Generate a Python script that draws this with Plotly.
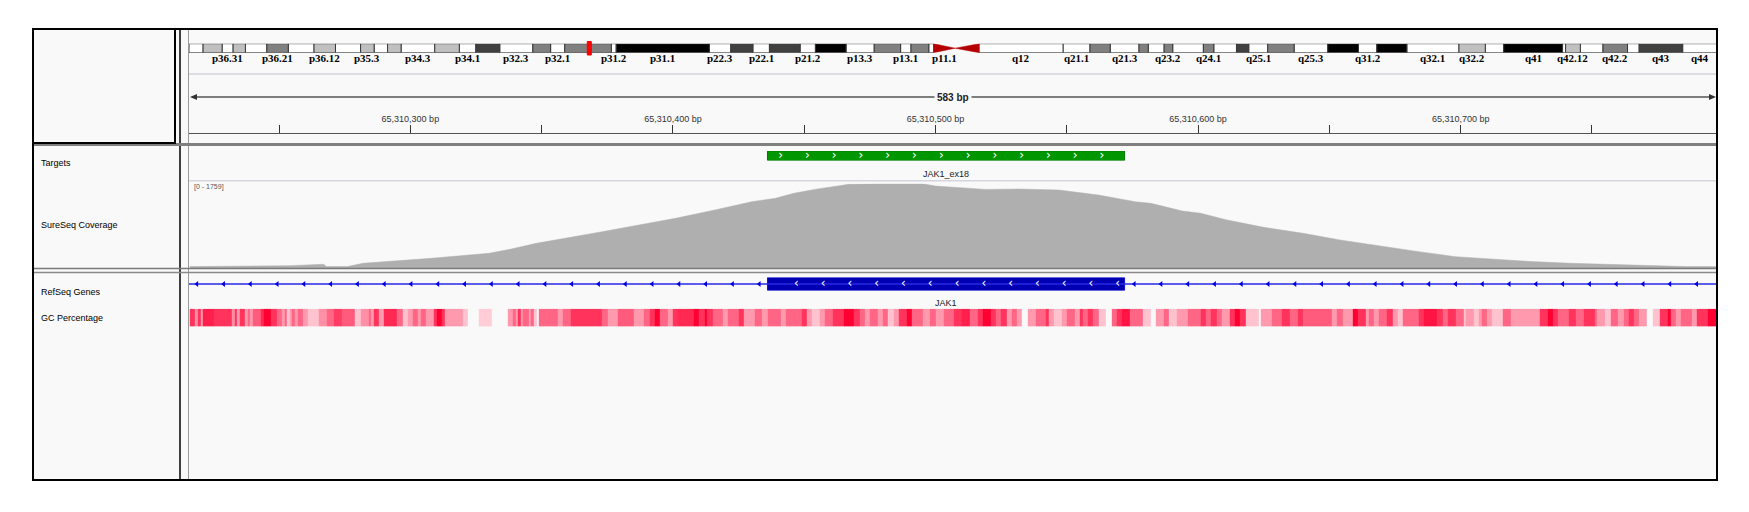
import numpy as np
import plotly.graph_objects as go

# canvas size in px, everything below is placed from it
W, H = 1749, 512


def px(x):
    return x / W


def py(y):
    return 1 - y / H


# ---- data ----
# chr1 cytobands (Mb)
chrom_length = 249.25
band_names = ['p36.33', 'p36.32', 'p36.31', 'p36.23', 'p36.22', 'p36.21', 'p36.13', 'p36.12', 'p36.11',
              'p35.3', 'p35.2', 'p35.1', 'p34.3', 'p34.2', 'p34.1', 'p33', 'p32.3', 'p32.2', 'p32.1',
              'p31.3', 'p31.2', 'p31.1', 'p22.3', 'p22.2', 'p22.1', 'p21.3', 'p21.2', 'p21.1',
              'p13.3', 'p13.2', 'p13.1', 'p12', 'p11.2', 'p11.1', 'q11', 'q12', 'q21.1', 'q21.2', 'q21.3',
              'q22', 'q23.1', 'q23.2', 'q23.3', 'q24.1', 'q24.2', 'q24.3', 'q25.1', 'q25.2', 'q25.3',
              'q31.1', 'q31.2', 'q31.3', 'q32.1', 'q32.2', 'q32.3', 'q41', 'q42.11', 'q42.12', 'q42.13',
              'q42.2', 'q42.3', 'q43', 'q44']
band_starts = [0, 2.3, 5.4, 7.2, 9.2, 12.7, 16.2, 20.4, 23.9, 28.0, 30.2, 32.4, 34.6, 40.1, 44.1, 46.8,
               50.7, 56.1, 59.0, 61.3, 68.9, 69.7, 84.9, 88.4, 92.0, 94.7, 99.7, 102.2, 107.2, 111.8,
               116.1, 117.8, 120.7, 121.5, 125.0, 128.9, 142.6, 147.0, 150.3, 155.0, 156.5, 159.1,
               160.5, 165.5, 167.2, 170.9, 172.9, 176.0, 180.3, 185.8, 190.8, 193.8, 198.7, 207.2,
               211.5, 214.5, 224.1, 224.6, 227.0, 230.7, 234.7, 236.6, 243.7]
band_stains = ['gneg', 'gpos25', 'gneg', 'gpos25', 'gneg', 'gpos50', 'gneg', 'gpos25', 'gneg',
               'gpos25', 'gneg', 'gpos25', 'gneg', 'gpos25', 'gneg', 'gpos75', 'gneg', 'gpos50', 'gneg',
               'gpos50', 'gneg', 'gpos100', 'gneg', 'gpos75', 'gneg', 'gpos75', 'gneg', 'gpos100',
               'gneg', 'gpos50', 'gneg', 'gpos50', 'gneg', 'acen', 'acen', 'gvar', 'gneg', 'gpos50', 'gneg',
               'gpos50', 'gneg', 'gpos50', 'gneg', 'gpos50', 'gneg', 'gpos75', 'gneg', 'gpos50', 'gneg',
               'gpos100', 'gneg', 'gpos100', 'gneg', 'gpos25', 'gneg', 'gpos100', 'gneg', 'gpos25', 'gneg',
               'gpos50', 'gneg', 'gpos75', 'gneg']
band_ends = band_starts[1:] + [chrom_length]
shown_bands = ['p36.31', 'p36.21', 'p36.12', 'p35.3', 'p34.3', 'p34.1', 'p32.3', 'p32.1', 'p31.2',
               'p31.1', 'p22.3', 'p22.1', 'p21.2', 'p13.3', 'p13.1', 'p11.1', 'q12', 'q21.1', 'q21.3',
               'q23.2', 'q24.1', 'q25.1', 'q25.3', 'q31.2', 'q32.1', 'q32.2', 'q41', 'q42.12', 'q42.2',
               'q43', 'q44']
locus_mb = 65.31

# view on chr1
base = 65310000
view_start = base + 215.7
view_end = base + 797.5
view_span = '583 bp'
ruler_ticks = [250, 300, 350, 400, 450, 500, 550, 600, 650, 700, 750]

# coverage (offset from base, depth)
cov_max = 1759
cov_pos = [216, 254, 267, 268, 276, 282, 308, 330, 338, 348, 372, 387, 401, 416, 430, 439, 446,
           454, 467, 480, 495, 500, 519, 532, 547, 562, 576, 582, 594, 601, 611, 625, 640, 654,
           669, 684, 698, 713, 727, 742, 757, 771, 786, 798]
cov_depth = [35, 55, 83, 35, 35, 104, 208, 312, 395, 519, 750, 900, 1039, 1212, 1385, 1454, 1558,
             1641, 1745, 1759, 1759, 1710, 1641, 1648, 1627, 1524, 1385, 1350, 1191, 1143, 1004, 852,
             727, 589, 464, 346, 242, 187, 139, 104, 83, 62, 35, 35]

# targets and genes
target_start, target_end, target_name = base + 436, base + 572, 'JAK1_ex18'
gene_start, gene_end, gene_name = 65298912, 65432187, 'JAK1'
exon_start, exon_end = base + 436, base + 572

# GC percentage runs (offset where run starts, GC %; None = no data)
gc_starts = [216, 218, 219, 220, 221, 225, 232, 233, 234, 235, 237, 238, 239, 240, 243, 244, 247, 249,
             251, 252, 253, 254, 255, 256, 257, 259, 261, 265, 268, 271, 274, 279, 281, 284, 285, 286,
             288, 290, 295, 297, 299, 301, 303, 304, 306, 309, 310, 312, 313, 320, 322, 326, 331, 337,
             339, 340, 341, 342, 343, 345, 346, 347, 348, 349, 356, 358, 361, 373, 375, 379, 385, 389,
             391, 393, 395, 398, 400, 402, 408, 410, 412, 413, 415, 419, 421, 425, 427, 431, 434, 436,
             441, 443, 449, 451, 453, 456, 458, 461, 465, 469, 471, 473, 475, 478, 480, 482, 484, 486,
             489, 491, 495, 498, 500, 503, 507, 510, 513, 516, 518, 521, 523, 525, 527, 529, 531, 533,
             535, 538, 542, 543, 545, 548, 550, 553, 555, 556, 558, 560, 562, 565, 567, 569, 571, 574,
             579, 582, 584, 587, 589, 592, 596, 601, 603, 605, 607, 609, 612, 614, 616, 618, 623, 624,
             628, 632, 635, 638, 640, 651, 653, 655, 659, 661, 664, 665, 667, 669, 672, 674, 676, 678,
             684, 686, 691, 693, 695, 698, 701, 702, 705, 707, 708, 710, 712, 716, 719, 730, 733, 735,
             737, 741, 744, 747, 751, 752, 755, 757, 760, 762, 764, 766, 768, 771, 773, 776, 779, 780,
             782, 784, 788, 790, 794]
gc_values = [60, 42, 60, 40, 64, 60, 42, 60, 40, 60, 40, 50, 40, 52, 62, 70, 60, 50,
             40, 50, 32, 40, 50, 40, 50, 40, 32, 42, 50, 58, 52, 32, 42, 50, 40, 60,
             40, 62, 50, 32, 40, 50, 40, 50, 40, 60, 70, 60, 40, 32, None, 30, None, 40,
             50, 40, 60, 40, 50, 40, 50, 32, None, 50, 40, 50, 60, 50, 40, 52, 40, 50,
             60, 70, 50, 40, 60, 62, 70, 60, 70, 60, 50, 40, 50, 60, 40, 50, 40, 50,
             40, 50, 60, 40, 32, 40, 50, 60, 70, 60, 50, 40, 50, 40, 50, 32, 40, 60,
             70, 50, 40, 50, 40, 50, 60, 64, 50, 60, 70, 60, 50, 60, 40, 50, 40, None,
             40, 50, 60, 40, 32, 40, 50, 40, 60, 50, 60, 50, 32, None, 50, 60, 66, 50,
             32, None, 40, 50, 32, 40, 50, 60, 50, 60, 50, 40, 60, 70, 60, 32, None, 40,
             50, 60, 50, 60, 52, 40, 50, 40, 70, 60, 40, 50, 40, 50, 60, 40, 32, 50,
             60, 66, 60, 50, 60, 50, 32, 40, 32, 40, 50, 40, 32, 50, 40, 60, 70, 60,
             50, 60, 50, 60, 50, 40, 32, 50, 40, 50, 60, 50, 40, None, 32, 60, 70, 50,
             40, 50, 40, 60, 70]
gc_end = 798

# ---- figure ----
fig = go.Figure()

## ideogram
stain_colors = {'gneg': '#FFFFFF', 'gvar': '#FFFFFF', 'gpos25': '#C0C0C0',
                'gpos50': '#808080', 'gpos75': '#404040', 'gpos100': '#000000'}
for stain, color in stain_colors.items():
    idx = [i for i, s in enumerate(band_stains) if s == stain]
    fig.add_trace(go.Bar(
        y=[0] * len(idx), x=[band_ends[i] - band_starts[i] for i in idx],
        base=[band_starts[i] for i in idx], orientation='h', width=1,
        marker=dict(color=color, line=dict(color='#3a3a3a', width=1)),
        xaxis='x2', yaxis='y6', hoverinfo='skip', showlegend=False))

cx, cy = [], []
for i, s in enumerate(band_stains):
    if s != 'acen':
        continue
    if band_names[i].startswith('p'):
        wide, tip = band_starts[i], band_ends[i]
    else:
        wide, tip = band_ends[i], band_starts[i]
    cx += [wide, wide, tip, wide, None]
    cy += [-0.5, 0.5, 0, -0.5, None]
fig.add_trace(go.Scatter(x=cx, y=cy, fill='toself', fillcolor='#B40000', mode='lines',
                         line=dict(color='#B40000', width=0.5), xaxis='x2', yaxis='y6',
                         hoverinfo='skip', showlegend=False))

## targets
fig.add_trace(go.Bar(y=[0], x=[target_end - target_start], base=[target_start], orientation='h',
                     width=1, marker=dict(color='#009600', line=dict(color='#007800', width=1)),
                     xaxis='x', yaxis='y2', hoverinfo='skip', showlegend=False))
t_chev = np.arange(target_start + 5, target_end - 4, 10.2)
fig.add_trace(go.Scatter(x=t_chev, y=[0] * len(t_chev), mode='text', text=['›'] * len(t_chev),
                         textfont=dict(color='white', size=12, family='DejaVu Sans'),
                         xaxis='x', yaxis='y2', hoverinfo='skip', showlegend=False))

## coverage
fig.add_trace(go.Scatter(x=[base + p for p in cov_pos], y=cov_depth, mode='lines', fill='tozeroy',
                         fillcolor='#AFAFAF', line=dict(color='#AFAFAF', width=0.5),
                         xaxis='x', yaxis='y3', hoverinfo='skip', showlegend=False))

## refseq gene
fig.add_trace(go.Scatter(x=[gene_start, gene_end], y=[0, 0], mode='lines',
                         line=dict(color='#2828E6', width=1.5),
                         xaxis='x', yaxis='y4', hoverinfo='skip', showlegend=False))
g_arrows = [v for v in np.arange(view_start + 3, view_end, 10.2) if not exon_start <= v <= exon_end]
fig.add_trace(go.Scatter(x=g_arrows, y=[0] * len(g_arrows), mode='markers',
                         marker=dict(symbol='triangle-left', size=5, color='#0000E0'),
                         xaxis='x', yaxis='y4', hoverinfo='skip', showlegend=False))
fig.add_trace(go.Bar(y=[0], x=[exon_end - exon_start], base=[exon_start], orientation='h',
                     width=1, marker=dict(color='#0000B2', line=dict(color='#1515D0', width=1)),
                     xaxis='x', yaxis='y4', hoverinfo='skip', showlegend=False))
e_chev = np.arange(exon_start + 11, exon_end - 2, 10.2)
fig.add_trace(go.Scatter(x=e_chev, y=[0] * len(e_chev), mode='text', text=['‹'] * len(e_chev),
                         textfont=dict(color='white', size=12, family='DejaVu Sans'),
                         xaxis='x', yaxis='y4', hoverinfo='skip', showlegend=False))

## gc percentage
fig.add_trace(go.Heatmap(z=[gc_values], x=[base + s for s in gc_starts] + [base + gc_end], y=[0, 1],
                         zmin=30, zmax=70, colorscale=[[0, '#FFCCD7'], [1, '#FF0033']],
                         showscale=False, hoverinfo='skip', xaxis='x', yaxis='y5'))

## frames and separators
line_shapes = [
    # (x0, y0, x1, y1, color, width)
    (180, 29, 180, 480, '#000000', 1.5),
    (188.5, 29, 188.5, 480, '#9a9a9a', 1),
    (189, 74, 1717, 74, '#DCDCE2', 2),
    (33, 144.5, 1717, 144.5, '#808080', 3),
    (189, 180.7, 1717, 180.7, '#D6D6DE', 1.5),
    (33, 268.6, 1717, 268.6, '#7a7a7a', 1.5),
    (33, 272.6, 1717, 272.6, '#8a8a8a', 1.5),
]
shapes = [dict(type='rect', xref='paper', yref='paper', x0=px(33), x1=px(1717), y0=py(480), y1=py(29),
               fillcolor='#F9F9F9', line=dict(width=0), layer='below')]
for x0, y0, x1, y1, c, w in line_shapes:
    shapes.append(dict(type='line', xref='paper', yref='paper', x0=px(x0), x1=px(x1), y0=py(y0), y1=py(y1),
                       line=dict(color=c, width=w), layer='above'))
shapes += [
    dict(type='rect', xref='paper', yref='paper', x0=px(33), x1=px(1717), y0=py(480), y1=py(29),
         line=dict(color='black', width=2), layer='above'),
    dict(type='rect', xref='paper', yref='paper', x0=px(33), x1=px(175), y0=py(143), y1=py(29),
         line=dict(color='black', width=2), layer='above'),
    # current locus on the ideogram
    dict(type='rect', xref='x2', yref='paper', x0=locus_mb - 0.33, x1=locus_mb + 0.33,
         y0=py(55), y1=py(41.5), fillcolor='#FF0000', line=dict(color='#FF0000', width=1), layer='above'),
    # span arrow
    dict(type='line', xref='paper', yref='paper', x0=px(192), x1=px(1714), y0=py(97), y1=py(97),
         line=dict(color='#555555', width=1.5)),
    dict(type='path', xref='paper', yref='paper', fillcolor='#333333', line=dict(width=0),
         path=f'M {px(190)} {py(97)} L {px(197)} {py(94)} L {px(197)} {py(100)} Z'),
    dict(type='path', xref='paper', yref='paper', fillcolor='#333333', line=dict(width=0),
         path=f'M {px(1716)} {py(97)} L {px(1709)} {py(94)} L {px(1709)} {py(100)} Z'),
]

## texts
ann = []
for name in shown_bands:
    i = band_names.index(name)
    ann.append(dict(x=(band_starts[i] + band_ends[i]) / 2, y=py(57.5), xref='x2', yref='paper',
                    text=f'<b>{name}</b>', showarrow=False, xanchor='center', yanchor='middle',
                    font=dict(family='Liberation Serif', size=11, color='black')))
ann.append(dict(x=px(953), y=py(97.5), xref='paper', yref='paper', text=f'<b>{view_span}</b>',
                showarrow=False, bgcolor='#F9F9F9', borderpad=2, xanchor='center', yanchor='middle',
                font=dict(family='Liberation Sans', size=10, color='#222')))
for label, y in [('Targets', 163.3), ('SureSeq Coverage', 225.3), ('RefSeq Genes', 291.7),
                 ('GC Percentage', 318.3)]:
    ann.append(dict(x=px(39), y=py(y), xref='paper', yref='paper', text=label, showarrow=False,
                    xanchor='left', yanchor='middle', font=dict(family='Liberation Sans', size=9, color='black')))
ann.append(dict(x=(target_start + target_end) / 2, y=py(174.3), xref='x', yref='paper', text=target_name,
                showarrow=False, yanchor='middle', font=dict(family='Liberation Sans', size=9, color='#222')))
ann.append(dict(x=(exon_start + exon_end) / 2, y=py(303.3), xref='x', yref='paper', text=gene_name,
                showarrow=False, yanchor='middle', font=dict(family='Liberation Sans', size=9, color='#222')))
ann.append(dict(x=px(192), y=py(186.7), xref='paper', yref='paper', text=f'[0 - {cov_max}]',
                showarrow=False, xanchor='left', yanchor='middle',
                font=dict(family='Liberation Sans', size=7, color='#555')))

hidden = dict(visible=False, showgrid=False, zeroline=False, fixedrange=True)
dom = [px(189), px(1716.7)]
fig.update_layout(
    width=W, height=H, margin=dict(l=0, r=0, t=0, b=0),
    paper_bgcolor='white', plot_bgcolor='rgba(0,0,0,0)', barmode='overlay',
    xaxis=dict(domain=dom, range=[view_start, view_end], anchor='free', position=py(133.3), side='top',
               showline=True, linecolor='#555555', linewidth=1, ticks='outside', ticklen=8,
               tickcolor='#333333', tickwidth=1, showgrid=False, zeroline=False,
               tickvals=[base + t for t in ruler_ticks],
               ticktext=[f'{base + t:,} bp' if t % 100 == 0 else '' for t in ruler_ticks],
               tickfont=dict(family='Liberation Sans', size=9, color='#333333')),
    xaxis2=dict(domain=dom, range=[0, chrom_length], anchor='y6', **hidden),
    yaxis2=dict(domain=[py(160.5), py(151)], range=[-0.5, 0.5], anchor='x', **hidden),
    yaxis3=dict(domain=[py(268.3), py(183.7)], range=[0, cov_max], anchor='x', **hidden),
    yaxis4=dict(domain=[py(290.5), py(277.5)], range=[-0.5, 0.5], anchor='x', **hidden),
    yaxis5=dict(domain=[py(326.5), py(308.7)], range=[0, 1], anchor='x', **hidden),
    yaxis6=dict(domain=[py(52.7), py(43.7)], range=[-0.5, 0.5], anchor='x2', **hidden),
    yaxis=dict(domain=[py(140), py(80)], anchor='x', **hidden),
    shapes=shapes, annotations=ann,
)

# page body has a default margin; drop it so the figure sits at the window origin
fig.write_html('out.html', config={'displayModeBar': False},
               post_script="document.body.style.margin='0';")
